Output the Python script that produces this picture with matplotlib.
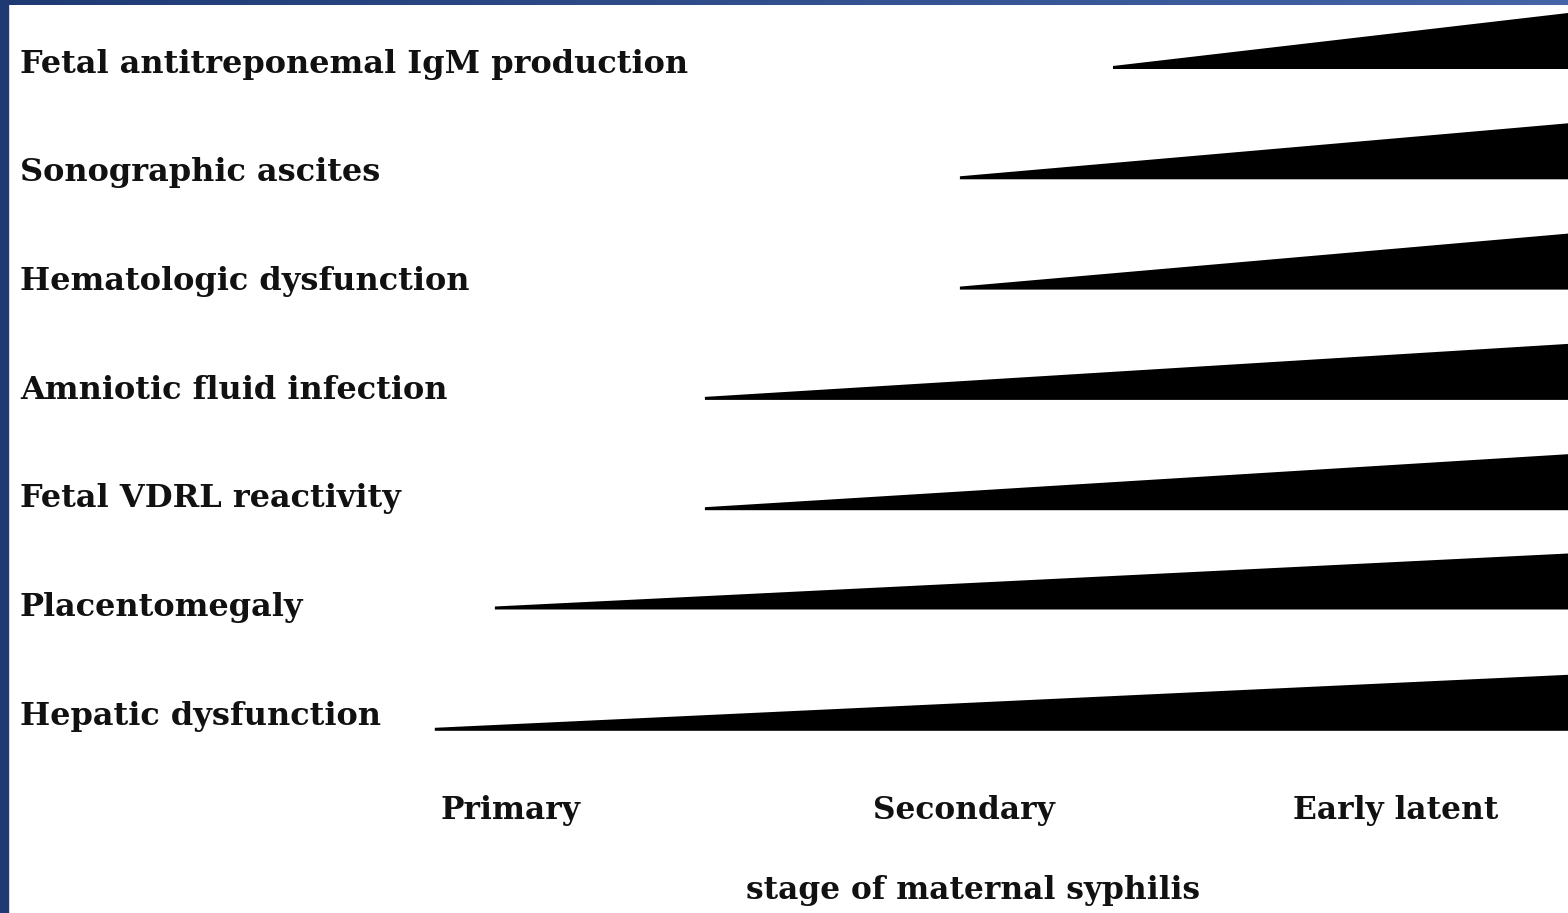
import matplotlib
matplotlib.use("Agg")
import matplotlib.pyplot as plt
from matplotlib.patches import Rectangle
import numpy as np

# findings, top to bottom
findings = ["Fetal antitreponemal IgM production", "Sonographic ascites",
            "Hematologic dysfunction", "Amniotic fluid infection",
            "Fetal VDRL reactivity", "Placentomegaly", "Hepatic dysfunction"]
# stage (0 = primary, 1 = secondary, 2 = early latent) where the wedge starts
onset = [1.355, 1.011, 1.011, 0.438, 0.438, -0.034, -0.169]
stages = ["Primary", "Secondary", "Early latent"]
xlabel = "stage of maternal syphilis"

W, H = 1568, 913
fig = plt.figure(figsize=(W / 100, H / 100), dpi=100)
ax = fig.add_axes([0, 0, 1, 1])
# one stage ~ 445 px, primary at 510 px
x0, step = 510, 445
ax.set_xlim(-x0 / step, (W - x0) / step)
ax.set_ylim(H, 0)
ax.axis("off")

x_end = (W - x0) / step
rows = np.arange(len(findings))
base = 69 + 110.3 * rows
base[5] -= 11
label_y = 64 + 108.7 * rows
wedge_h = 56

font = dict(family="DejaVu Serif", fontweight="bold", color="#111111")
for i, name in enumerate(findings):
    b = base[i]
    ax.fill([onset[i], x_end, x_end, onset[i]],
            [b, b, b - wedge_h, b - 3], color="black", lw=0)
    ax.text(-490 / step, label_y[i], name, fontsize=23, va="center", ha="left", **font)

for k, s in enumerate(stages):
    xs = [0, 1.02, 1.99][k]
    ax.text(xs, 811, s, fontsize=22.5, ha="center", va="center", **font)
ax.text(1.04, 890, xlabel, fontsize=22.5, ha="center", va="center", **font)

# slide border
fig.patches.append(Rectangle((0, 0), 8 / W, 1, transform=fig.transFigure,
                             color="#1f3a73", zorder=10))
grad = np.linspace(0, 1, 256).reshape(1, -1)
top = fig.add_axes([0, 1 - 5 / H, 1, 5 / H])
top.imshow(grad, aspect="auto",
           cmap=matplotlib.colors.LinearSegmentedColormap.from_list("b", ["#1f3a73", "#4565a8"]))
top.axis("off")

fig.savefig("out.png", dpi=100)
